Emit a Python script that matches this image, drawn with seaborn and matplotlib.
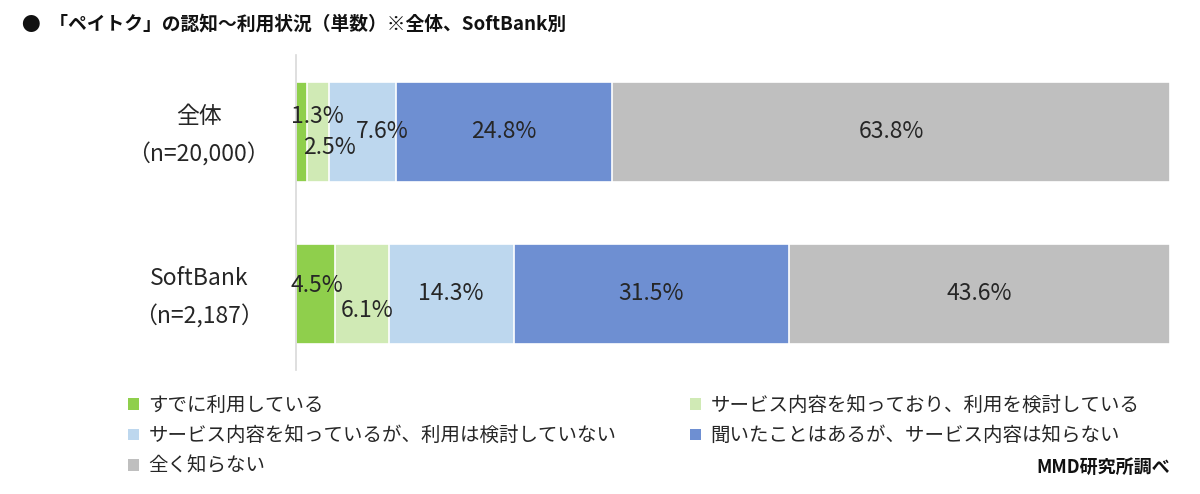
import numpy as np
import pandas as pd
import matplotlib
matplotlib.use("Agg")
import matplotlib.pyplot as plt
import matplotlib.transforms as mtransforms
from matplotlib.patches import Patch
import seaborn as sns

# ---- data ----
categories = ["全体\n（n=20,000）", "SoftBank\n（n=2,187）"]
series_names = [
    "すでに利用している",
    "サービス内容を知っており、利用を検討している",
    "サービス内容を知っているが、利用は検討していない",
    "聞いたことはあるが、サービス内容は知らない",
    "全く知らない",
]
v_used = [1.3, 4.5]
v_considering = [2.5, 6.1]
v_know_not_considering = [7.6, 14.3]
v_heard = [24.8, 31.5]
v_unknown = [63.8, 43.6]
values = [v_used, v_considering, v_know_not_considering, v_heard, v_unknown]
colors = ["#8fcf4c", "#d0eab5", "#bdd7ee", "#6e8fd2", "#bfbfbf"]

# label offsets (points) to mimic overlap avoidance
label_offsets = {
    (0, 0): (11, 11), (0, 1): (8, -11), (0, 2): (14, 0),
    (1, 0): (1, 6), (1, 1): (4, -12), (1, 2): (0, 0),
}

sns.set_theme(style="white")
plt.rcParams["font.family"] = ["Noto Sans CJK JP", "DejaVu Sans"]

fig = plt.figure(figsize=(12, 4.94), dpi=100)
ax = fig.add_axes([296 / 1200, 1 - 370 / 494, (1170 - 296) / 1200, 315 / 494])

cum = np.cumsum(np.array(values), axis=0)
df_rows = []
for i in range(len(series_names)):
    for j, c in enumerate(categories):
        df_rows.append({"cat": c, "series": series_names[i], "val": values[i][j], "cum": cum[i][j]})
df = pd.DataFrame(df_rows)

# draw from largest cumulative to smallest so segments stack
for i in reversed(range(len(series_names))):
    sub = df[df["series"] == series_names[i]]
    sns.barplot(data=sub, x="cum", y="cat", order=categories, color=colors[i],
                orient="h", width=0.62, edgecolor="white", linewidth=1.2, ax=ax,
                saturation=1)

# value labels
for i in range(len(series_names)):
    for j in range(len(categories)):
        v = values[i][j]
        start = cum[i][j] - v
        center = start + v / 2
        dx, dy = label_offsets.get((j, i), (0, 0))
        ax.annotate(f"{v:.1f}%", (center, j), xytext=(dx, dy), textcoords="offset points",
                    ha="center", va="center", fontsize=16.5, color="#262626")

ax.set_xlim(0, 100)
ax.set_ylim(1.47, -0.475)
ax.set_xlabel("")
ax.set_ylabel("")
ax.set_xticks([])
ax.set_yticks(range(len(categories)))
ax.set_yticklabels(categories, fontsize=16.5, color="#262626", ha="center", va="center",
                   linespacing=1.8)
ax.tick_params(axis="y", length=0, pad=70)
shift = mtransforms.ScaledTranslation(0, -4 / 100, fig.dpi_scale_trans)
for lbl in ax.get_yticklabels():
    lbl.set_transform(lbl.get_transform() + shift)
for s in ["top", "right", "bottom"]:
    ax.spines[s].set_visible(False)
ax.spines["left"].set_color("#d9d9d9")
ax.spines["left"].set_linewidth(1.2)

# legend (row-wise order)
handles = [Patch(facecolor=colors[i], edgecolor="none") for i in range(len(series_names))]
order = [0, 2, 4, 1, 3]
leg = fig.legend([handles[k] for k in order], [series_names[k] for k in order],
                 loc="upper left", bbox_to_anchor=(128 / 1200, 1 - 395 / 494),
                 ncol=2, frameon=False, fontsize=14, handlelength=0.55, handleheight=0.55,
                 handletextpad=0.5, columnspacing=3.8, labelspacing=0.48,
                 borderaxespad=0, borderpad=0)
for t in leg.get_texts():
    t.set_color("#262626")

fig.text(22 / 1200, 1 - 24 / 494, "●  「ペイトク」の認知～利用状況（単数）※全体、SoftBank別",
         fontsize=13.5, fontweight="bold", va="center", ha="left", color="#111111")
fig.text(1170 / 1200, 1 - 467 / 494, "MMD研究所調べ", fontsize=13, fontweight="bold",
         va="center", ha="right", color="#111111")

fig.savefig("out.png", dpi=100)
